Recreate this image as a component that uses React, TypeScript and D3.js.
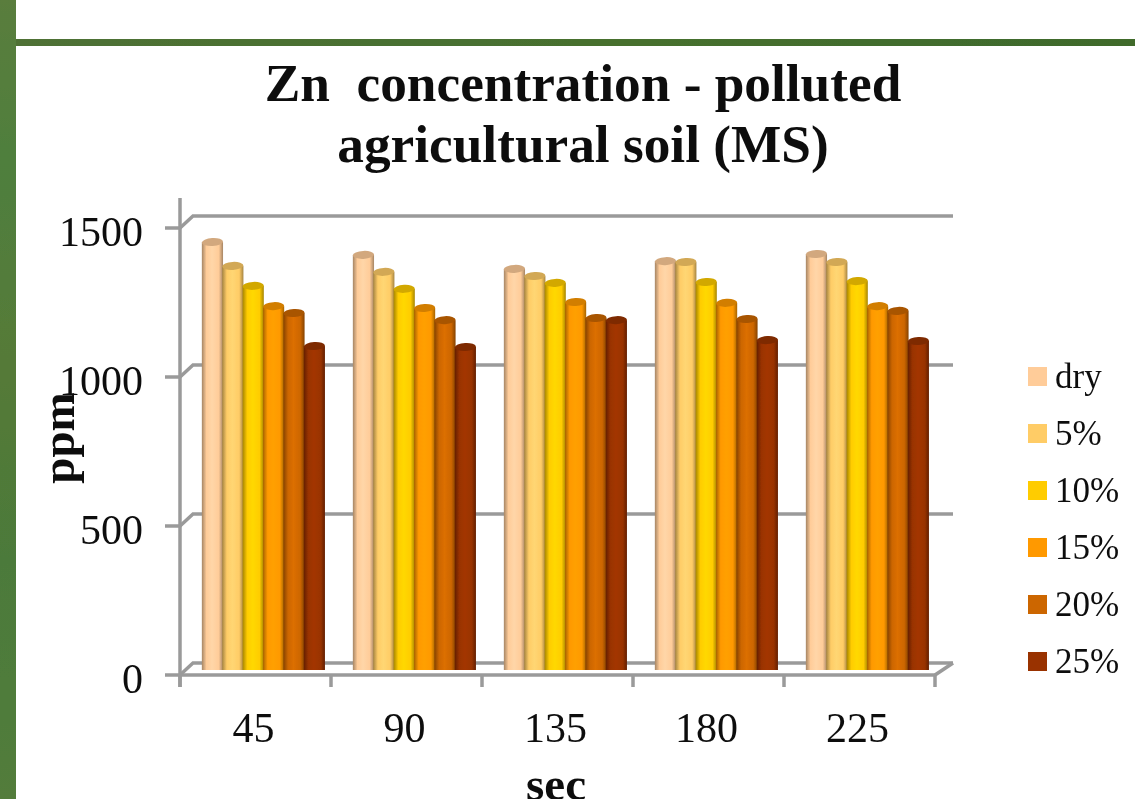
import React, { useEffect, useRef } from 'react';
import * as d3 from 'd3';

const categories = ['45', '90', '135', '180', '225'];
const seriesNames = ['dry', '5%', '10%', '15%', '20%', '25%'];
const seriesColors = ['#ffcc99', '#ffcc66', '#ffcc00', '#ff9900', '#cc6600', '#993300'];
const seriesHighlights = ['#ffd6a8', '#ffd673', '#ffd800', '#ffa000', '#dc6f00', '#a33600'];
const yTicks = [0, 500, 1000, 1500];

const dry = [1436, 1393, 1346, 1372, 1396];
const pct5 = [1356, 1336, 1322, 1369, 1369];
const pct10 = [1289, 1279, 1299, 1302, 1305];
const pct15 = [1221, 1215, 1235, 1232, 1221];
const pct20 = [1198, 1174, 1181, 1178, 1205];
const pct25 = [1087, 1084, 1174, 1107, 1104];
const seriesValues = [dry, pct5, pct10, pct15, pct20, pct25];

const WIDTH = 1135;
const HEIGHT = 799;
const SERIF = '"Liberation Serif", "Times New Roman", serif';
const AXIS_GREY = '#9a9a9a';

const App: React.FC = () => {
  const svgRef = useRef<SVGSVGElement>(null);

  useEffect(() => {
    if (!svgRef.current) return;
    const svg = d3.select(svgRef.current);
    svg.selectAll('*').remove();

    const defs = svg.append('defs');

    // the reference is an upscaled screenshot, so everything is a bit soft
    defs.append('filter').attr('id', 'soft')
      .attr('x', 0).attr('y', 0).attr('width', 1).attr('height', 1)
      .attr('filterUnits', 'objectBoundingBox')
      .append('feGaussianBlur').attr('stdDeviation', 0.55);

    // Slide background
    const green = defs.append('linearGradient').attr('id', 'slideGreen')
      .attr('x1', 0).attr('y1', 0).attr('x2', 0).attr('y2', 1);
    green.append('stop').attr('offset', '0%').attr('stop-color', '#5a7d3c');
    green.append('stop').attr('offset', '20%').attr('stop-color', '#4f7f3e');
    green.append('stop').attr('offset', '45%').attr('stop-color', '#557a38');
    green.append('stop').attr('offset', '70%').attr('stop-color', '#4c7a3a');
    green.append('stop').attr('offset', '100%').attr('stop-color', '#527c3b');

    const stripe = defs.append('linearGradient').attr('id', 'slideStripe');
    stripe.append('stop').attr('offset', '0%').attr('stop-color', '#4f7135');
    stripe.append('stop').attr('offset', '50%').attr('stop-color', '#47702f');
    stripe.append('stop').attr('offset', '100%').attr('stop-color', '#3f6a2c');

    const root = svg.append('g').attr('filter', 'url(#soft)');

    root.append('rect').attr('width', WIDTH).attr('height', HEIGHT).attr('fill', '#fff');
    root.append('rect').attr('width', 16).attr('height', HEIGHT).attr('fill', 'url(#slideGreen)');
    root.append('rect').attr('x', 16).attr('y', 39).attr('width', WIDTH - 16).attr('height', 7)
      .attr('fill', 'url(#slideStripe)');

    // Cylinder shading per series
    seriesColors.forEach((c, i) => {
      const grad = defs.append('linearGradient').attr('id', `cyl-${i}`);
      const dark = d3.color(c)!.darker(1.2).formatHex();
      grad.append('stop').attr('offset', '0%').attr('stop-color', dark);
      grad.append('stop').attr('offset', '22%').attr('stop-color', c);
      grad.append('stop').attr('offset', '48%').attr('stop-color', seriesHighlights[i]);
      grad.append('stop').attr('offset', '80%').attr('stop-color', c);
      grad.append('stop').attr('offset', '100%').attr('stop-color', dark);
    });

    // Scales
    const xFront = d3.scaleLinear().domain([0, 5]).range([180, 935]);
    const yFront = d3.scaleLinear().domain([0, 1500]).range([675, 228]);
    const yBack = d3.scaleLinear().domain([0, 1500]).range([663, 216]);
    const yBar = d3.scaleLinear().domain([0, 1500]).range([670, 223]);
    const xGroup = d3.scaleBand<string>().domain(categories).range([187.5, 942.5]).paddingInner(0.19).paddingOuter(0.095);
    const xBar = d3.scaleBand<string>().domain(seriesNames).range([0, xGroup.bandwidth()]);

    // Walls
    const walls = root.append('g').attr('fill', 'none').attr('stroke', AXIS_GREY).attr('stroke-width', 3.5);
    yTicks.forEach(t => {
      walls.append('path').attr('d', d3.line()([
        [165, yFront(t)], [180, yFront(t)], [193, yBack(t)], [953, yBack(t)]
      ]));
    });
    walls.append('path').attr('d', d3.line()([[935, 675], [953, 663]]));

    // Front axes
    const yAxis = d3.axisLeft(yFront).tickValues(yTicks).tickFormat(d3.format('d')).tickSize(0).tickPadding(37);
    const yAxisG = root.append('g').attr('transform', 'translate(180,0)').call(yAxis);
    yAxisG.select('.domain').remove();
    yAxisG.selectAll('text')
      .attr('font-family', SERIF).attr('font-size', 42).attr('fill', '#111').attr('dy', 17);

    const xAxisG = root.append('g').attr('stroke', AXIS_GREY).attr('stroke-width', 3.5).attr('fill', 'none');
    xAxisG.append('path').attr('d', d3.line()([[180, 198], [180, 687]]));
    xAxisG.append('path').attr('d', d3.line()([[180, 675], [935, 675]]));
    d3.range(0, 6).forEach(i => {
      xAxisG.append('path').attr('d', d3.line()([[xFront(i), 675], [xFront(i), 687]]));
    });

    root.append('g').selectAll('text').data(categories).enter().append('text')
      .attr('x', (_, i) => xFront(i + 0.5) - 2)
      .attr('y', 742)
      .attr('text-anchor', 'middle')
      .attr('font-family', SERIF).attr('font-size', 42).attr('fill', '#111')
      .text(d => d);

    // Bars
    seriesNames.forEach((name, s) => {
      const g = root.append('g');
      const w = xBar.bandwidth() + 0.8;
      categories.forEach((cat, i) => {
        const x = (xGroup(cat) as number) + (xBar(name) as number);
        const top = yBar(seriesValues[s][i]);
        g.append('rect')
          .attr('x', x).attr('y', top).attr('width', w).attr('height', yBar(0) - top)
          .attr('fill', `url(#cyl-${s})`);
        g.append('ellipse')
          .attr('cx', x + w / 2).attr('cy', top).attr('rx', w / 2).attr('ry', 4)
          .attr('transform', `rotate(-3,${x + w / 2},${top})`)
          .attr('fill', d3.color(seriesColors[s])!.darker(0.55).formatHex());
      });
    });

    // Title
    const title = root.append('text')
      .attr('text-anchor', 'middle')
      .attr('font-family', SERIF).attr('font-size', 53.3).attr('font-weight', 'bold').attr('fill', '#111')
      .style('white-space', 'pre');
    title.append('tspan').attr('x', 583).attr('y', 101).text('Zn  concentration - polluted');
    title.append('tspan').attr('x', 583).attr('y', 162).text('agricultural soil (MS)');

    // Axis titles
    root.append('text')
      .attr('transform', 'translate(74,438) rotate(-90)')
      .attr('text-anchor', 'middle')
      .attr('font-family', SERIF).attr('font-size', 47).attr('font-weight', 'bold').attr('fill', '#111')
      .text('ppm');
    // cut by the bottom edge in the reference too
    root.append('text')
      .attr('x', 556).attr('y', 800)
      .attr('text-anchor', 'middle')
      .attr('font-family', SERIF).attr('font-size', 47).attr('font-weight', 'bold').attr('fill', '#111')
      .text('sec');

    // Legend
    const yLegend = d3.scalePoint<string>().domain(seriesNames).range([376, 661]);
    const legend = root.append('g').selectAll('g').data(seriesNames).enter().append('g')
      .attr('transform', d => `translate(1028,${yLegend(d)})`);
    legend.append('rect')
      .attr('y', -9).attr('width', 19).attr('height', 19)
      .attr('fill', (_, i) => seriesColors[i]);
    legend.append('text')
      .attr('x', 27).attr('y', 12)
      .attr('font-family', SERIF).attr('font-size', 35).attr('fill', '#111')
      .text(d => d);
  }, []);

  return (
    <svg
      ref={svgRef}
      width={WIDTH}
      height={HEIGHT}
      style={{ position: 'fixed', left: 0, top: 0, display: 'block' }}
    />
  );
};

export default App;
